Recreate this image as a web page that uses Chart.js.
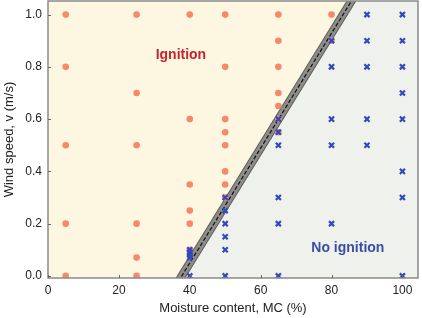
<!DOCTYPE html>
<html>
<head>
<meta charset="utf-8">
<script src="https://cdn.jsdelivr.net/npm/chart.js@4/dist/chart.umd.min.js"></script>
<style>
  html, body { margin: 0; padding: 0; background: #fff; }
  #wrap { width: 422px; height: 318px; position: relative; }
</style>
</head>
<body>
<div id="wrap"><canvas id="chart"></canvas></div>
<script>
// ignition points (orange dots)
const ignitionMC = [5, 5, 5, 5, 5,
    25, 25, 25, 25, 25, 25,
    40, 40, 40, 40, 40, 40,
    50, 50, 50, 50, 50, 50, 50, 50,
    65, 65, 65, 65, 65, 65, 65,
    80, 80];
const ignitionV = [1.0, 0.8, 0.5, 0.2, 0.0,
    1.0, 0.7, 0.5, 0.2, 0.07, 0.0,
    1.0, 0.6, 0.35, 0.25, 0.2, 0.1,
    1.0, 0.8, 0.6, 0.55, 0.5, 0.4, 0.35, 0.3,
    1.0, 0.9, 0.8, 0.7, 0.65, 0.6, 0.55,
    1.0, 0.9];

// no ignition points (blue crosses)
const noIgnitionMC = [40, 40, 40, 40, 40,
    50, 50, 50, 50, 50, 50,
    65, 65, 65, 65, 65, 65,
    80, 80, 80, 80, 80,
    90, 90, 90, 90, 90,
    100, 100, 100, 100, 100, 100, 100, 100];
const noIgnitionV = [0.1, 0.09, 0.08, 0.07, 0.0,
    0.3, 0.25, 0.2, 0.15, 0.1, 0.0,
    0.6, 0.55, 0.5, 0.3, 0.2, 0.0,
    0.9, 0.8, 0.6, 0.5, 0.2,
    1.0, 0.9, 0.8, 0.6, 0.5,
    1.0, 0.9, 0.8, 0.7, 0.6, 0.4, 0.3, 0.0];

// fitted boundary line
const boundaryMC = [33.2, 87.8];
const boundaryV = [-0.1, 1.1];

// outline used to shade the two regions
const regionMC = [-5, 33.2, 87.8, 110];
const regionV = [-0.1, -0.1, 1.1, 1.1];

const xTicks = [0, 20, 40, 60, 80, 100];
const yTicks = [0.0, 0.2, 0.4, 0.6, 0.8, 1.0];

const labels = [
    { text: 'Ignition', mc: 37.5, v: 0.846, color: '#c4262e' },
    { text: 'No ignition', mc: 84.6, v: 0.108, color: '#3a4ea8' },
];

const pts = (xs, ys) => xs.map((x, i) => ({ x, y: ys[i] }));

const FONT = '"Liberation Sans", Arial, Helvetica, sans-serif';

const framePlugin = {
    id: 'frame',
    afterDatasetsDraw(chart) {
        const { ctx, chartArea: a, scales } = chart;
        ctx.save();
        // text labels
        ctx.font = `bold 14px ${FONT}`;
        ctx.textAlign = 'center';
        ctx.textBaseline = 'middle';
        labels.forEach((l) => {
            ctx.fillStyle = l.color;
            ctx.fillText(l.text, scales.x.getPixelForValue(l.mc), scales.y.getPixelForValue(l.v));
        });
        // axes box
        ctx.strokeStyle = '#8a8a8a';
        ctx.lineWidth = 1.5;
        ctx.strokeRect(a.left, a.top, a.right - a.left, a.bottom - a.top);
        // inward tick marks
        ctx.lineWidth = 1;
        ctx.strokeStyle = '#666';
        ctx.beginPath();
        xTicks.forEach((t) => {
            const px = Math.round(scales.x.getPixelForValue(t)) + 0.5;
            ctx.moveTo(px, a.bottom);
            ctx.lineTo(px, a.bottom - 3);
        });
        yTicks.forEach((t) => {
            const py = Math.round(scales.y.getPixelForValue(t)) + 0.5;
            ctx.moveTo(a.left, py);
            ctx.lineTo(a.left + 3, py);
        });
        ctx.stroke();
        ctx.restore();
    },
};

new Chart(document.getElementById('chart'), {
    type: 'scatter',
    data: {
        datasets: [
            {
                label: 'No ignition',
                data: pts(noIgnitionMC, noIgnitionV),
                pointStyle: 'crossRot',
                pointRadius: 3.6,
                borderColor: '#3448bd',
                borderWidth: 2.2,
                backgroundColor: '#3448bd',
                order: 0,
            },
            {
                label: 'Ignition',
                data: pts(ignitionMC, ignitionV),
                pointStyle: 'circle',
                pointRadius: 3.3,
                borderWidth: 0,
                backgroundColor: '#f5896a',
                order: 1,
            },
            {
                label: 'boundary-dash',
                data: pts(boundaryMC, boundaryV),
                showLine: true,
                pointRadius: 0,
                borderColor: '#111',
                borderWidth: 1.2,
                borderDash: [4, 2],
                order: 2,
            },
            {
                label: 'boundary-band',
                data: pts(boundaryMC, boundaryV),
                showLine: true,
                pointRadius: 0,
                borderColor: '#8e8d89',
                borderWidth: 6.5,
                order: 3,
            },
            {
                label: 'boundary-edge',
                data: pts(boundaryMC, boundaryV),
                showLine: true,
                pointRadius: 0,
                borderColor: '#5e5e5b',
                borderWidth: 8.5,
                order: 4,
            },
            {
                label: 'no-ignition-region',
                data: pts(regionMC, regionV),
                showLine: true,
                pointRadius: 0,
                borderWidth: 0,
                fill: 'start',
                backgroundColor: '#eff2ec',
                order: 5,
            },
            {
                label: 'ignition-region',
                data: pts(regionMC, regionV),
                showLine: true,
                pointRadius: 0,
                borderWidth: 0,
                fill: 'end',
                backgroundColor: '#fdf6e0',
                order: 6,
            },
        ],
    },
    options: {
        responsive: true,
        maintainAspectRatio: false,
        animation: false,
        layout: { autoPadding: false, padding: { top: 1, right: 4, left: 0, bottom: 0 } },
        plugins: {
            legend: { display: false },
            tooltip: { enabled: false },
        },
        scales: {
            x: {
                type: 'linear',
                min: 0,
                max: 104.4,
                afterBuildTicks(scale) {
                    scale.ticks = xTicks.map((v) => ({ value: v }));
                },
                afterFit(scale) {
                    scale.height = 40;
                    scale.paddingLeft = 0;
                    scale.paddingRight = 0;
                },
                grid: { display: false, drawTicks: false },
                border: { display: false },
                ticks: {
                    padding: 5,
                    color: '#222',
                    font: { family: FONT, size: 12 },
                },
                title: {
                    display: true,
                    text: 'Moisture content, MC (%)',
                    color: '#222',
                    font: { family: FONT, size: 13 },
                    padding: { top: 0, bottom: 2 },
                },
            },
            y: {
                type: 'linear',
                min: -0.008,
                max: 1.052,
                afterBuildTicks(scale) {
                    scale.ticks = yTicks.map((v) => ({ value: v }));
                },
                afterFit(scale) {
                    scale.width = 48;
                    scale.paddingTop = 0;
                    scale.paddingBottom = 0;
                },
                grid: { display: false, drawTicks: false },
                border: { display: false },
                ticks: {
                    padding: 6,
                    color: '#222',
                    font: { family: FONT, size: 12 },
                    callback: (v) => Number(v).toFixed(1),
                },
                title: {
                    display: true,
                    text: 'Wind speed, v (m/s)',
                    color: '#222',
                    font: { family: FONT, size: 13 },
                    padding: { top: 2, bottom: 0 },
                },
            },
        },
    },
    plugins: [framePlugin],
});
</script>
</body>
</html>
